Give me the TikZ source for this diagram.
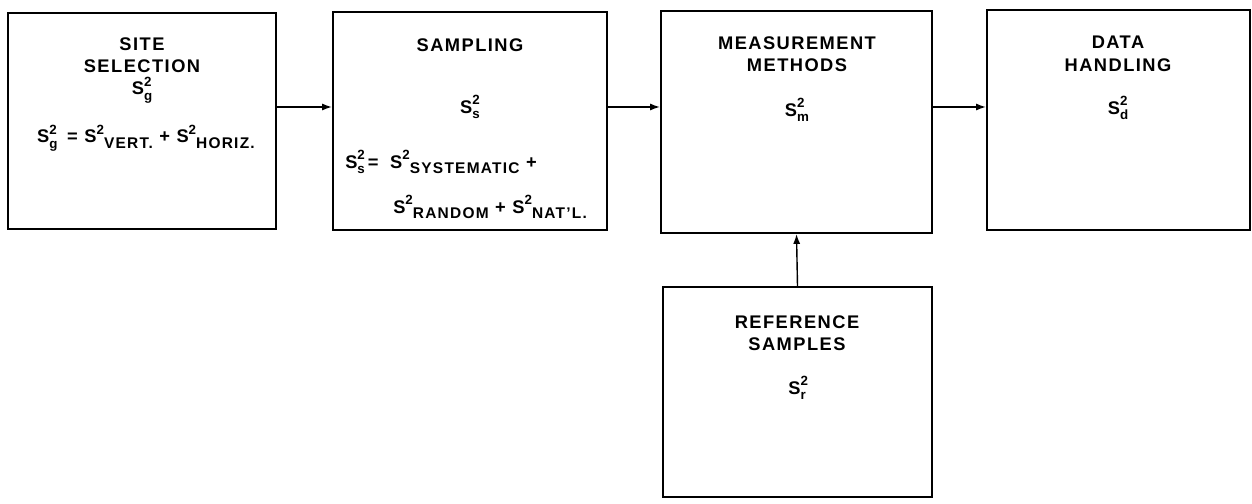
\documentclass[tikz,border=0pt]{standalone}
\usepackage{fontspec}
\setmainfont{Liberation Sans}[LetterSpace=8]
\usetikzlibrary{arrows.meta}

\newcommand{\sml}{\fontsize{9.5}{10}\selectfont}
\newcommand{\subsz}{\fontsize{11}{12}\selectfont}
\newcommand{\vsym}[1]{S\rlap{\raisebox{.85ex}{\sml 2}}\raisebox{-.55ex}{\sml #1}}
\newcommand{\vterm}[1]{S\raisebox{.85ex}{\sml 2}\raisebox{-.55ex}{\subsz #1}}

\begin{document}
\begin{tikzpicture}[x=0.025cm, y=-0.025cm,
    every node/.style={font=\fontsize{13}{16}\selectfont\bfseries, align=center, inner sep=0pt},
    blok/.style={draw, line width=1.4pt, rectangle},
    flow/.style={-{Latex[length=7pt,width=5pt]}, line width=1pt}]
\useasboundingbox (0,0) rectangle (1252,504);

    % Site selection
    \node[blok, minimum width=6.7cm, minimum height=5.4cm] (site) at (142,121) {};
    \node (sitet) at (142,55) {SITE\\SELECTION};
    \node (sites) at (142,90) {\vsym{g}};
    \node (siteq) at (146,138) {\vsym{g} \,= \vterm{VERT.} + \vterm{HORIZ.}};

    % Sampling
    \node[blok, minimum width=6.85cm, minimum height=5.45cm] (samp) at (470,121) {};
    \node (sampt) at (470,45) {SAMPLING};
    \node (samps) at (470,107) {\vsym{s}};
    \node[anchor=west] (sampq) at (345,162) {\vsym{s}\,=\; \vterm{SYSTEMATIC} +};
    \node[anchor=west] (sampr) at (393,207) {\vterm{RANDOM} + \vterm{NAT'L.}};

    % Measurement methods
    \node[blok, minimum width=6.775cm, minimum height=5.55cm] (meas) at (796.5,122) {};
    \node (meast) at (797,54) {MEASUREMENT\\METHODS};
    \node (meass) at (797,110) {\vsym{m}};

    % Data handling
    \node[blok, minimum width=6.575cm, minimum height=5.5cm] (data) at (1118.5,120) {};
    \node (datat) at (1118,54) {DATA\\HANDLING};
    \node (datas) at (1118,108) {\vsym{d}};

    % Reference samples
    \node[blok, minimum width=6.725cm, minimum height=5.25cm] (refs) at (797.5,392) {};
    \node (refst) at (797,333) {REFERENCE\\SAMPLES};
    \node (refss) at (797,388) {\vsym{r}};

    \draw[flow] (site.east |- samps) -- (samp.west |- samps);
    \draw[flow] (samp.east |- samps) -- (meas.west |- samps);
    \draw[flow] (meas.east |- samps) -- (data.west |- samps);
    \draw[flow] (refs.north) -- (meas.south);

\end{tikzpicture}
\end{document}
